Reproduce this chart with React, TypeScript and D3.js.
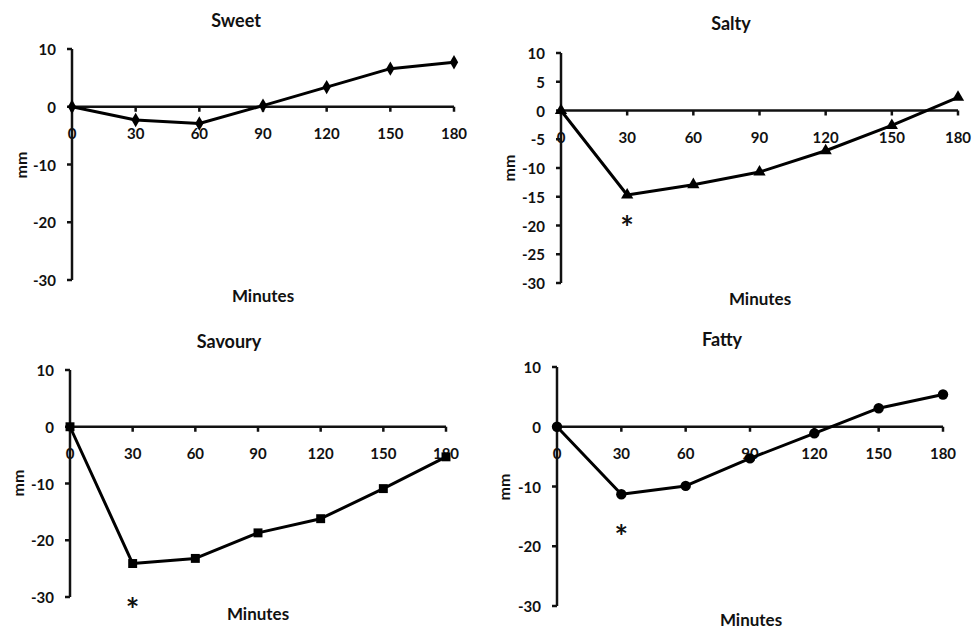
import React from 'react'
import * as d3 from 'd3'

const minutes = [0, 30, 60, 90, 120, 150, 180]
const sweet = [0, -2.3, -2.9, 0.2, 3.4, 6.6, 7.7]
const salty = [0, -14.7, -12.9, -10.7, -7.0, -2.6, 2.3]
const savoury = [0, -24.1, -23.2, -18.7, -16.2, -10.9, -5.3]
const fatty = [0, -11.3, -9.9, -5.3, -1.1, 3.1, 5.4]

const ticksBy10 = [10, 0, -10, -20, -30]
const ticksBy5 = [10, 5, 0, -5, -10, -15, -20, -25, -30]

// where the * sits (minute, mm)
const saltyStar = [30, -19.3]
const savouryStar = [30, -31.2]
const fattyStar = [30, -17.4]

const FONT = 'Lato, "Open Sans", sans-serif'

type Panel = {
  title: string
  values: number[]
  yTicks: number[]
  marker: d3.SymbolType
  markerSize: number
  star?: number[]
  box: { x0: number; x1: number; yTop: number; yBot: number }
  titlePos: [number, number]
  xTitlePos: [number, number]
  yTitlePos: [number, number]
}

const panels: Panel[] = [
  {
    title: 'Sweet', values: sweet, yTicks: ticksBy10, marker: d3.symbolDiamond, markerSize: 60,
    box: { x0: 72, x1: 454, yTop: 49, yBot: 280 },
    titlePos: [236, 20], xTitlePos: [263, 295], yTitlePos: [20, 165],
  },
  {
    title: 'Salty', values: salty, yTicks: ticksBy5, marker: d3.symbolTriangle, markerSize: 65, star: saltyStar,
    box: { x0: 561, x1: 958, yTop: 53, yBot: 283 },
    titlePos: [731, 23], xTitlePos: [760, 298], yTitlePos: [508, 168],
  },
  {
    title: 'Savoury', values: savoury, yTicks: ticksBy10, marker: d3.symbolSquare, markerSize: 80, star: savouryStar,
    box: { x0: 70, x1: 446, yTop: 370, yBot: 597 },
    titlePos: [229, 341], xTitlePos: [258, 613], yTitlePos: [17, 483],
  },
  {
    title: 'Fatty', values: fatty, yTicks: ticksBy10, marker: d3.symbolCircle, markerSize: 85, star: fattyStar,
    box: { x0: 557, x1: 943, yTop: 367, yBot: 606 },
    titlePos: [722, 339], xTitlePos: [751, 619], yTitlePos: [503, 487],
  },
]

function Chart({ p }: { p: Panel }) {
  const { box } = p
  const x = d3.scaleLinear().domain([0, 180]).range([box.x0, box.x1])
  const y = d3.scaleLinear().domain([10, -30]).range([box.yTop, box.yBot])
  const pts = minutes.map((m, i) => [m, p.values[i]] as [number, number])
  const line = d3.line<[number, number]>().x((d) => x(d[0])).y((d) => y(d[1]))
  const sym = d3.symbol().type(p.marker).size(p.markerSize)()
  const y0 = y(0)

  return (
    <g fontFamily={FONT} fontWeight="bold" fill="#111">
      <text x={p.titlePos[0]} y={p.titlePos[1]} textAnchor="middle" dominantBaseline="central" fontSize={18}>
        {p.title}
      </text>
      <text x={p.xTitlePos[0]} y={p.xTitlePos[1]} textAnchor="middle" dominantBaseline="central" fontSize={17}>
        Minutes
      </text>
      <text
        transform={`translate(${p.yTitlePos[0]},${p.yTitlePos[1]}) rotate(-90)`}
        textAnchor="middle"
        dominantBaseline="central"
        fontSize={16}
      >
        mm
      </text>

      {/* y axis */}
      <line x1={box.x0} x2={box.x0} y1={box.yTop} y2={box.yBot} stroke="#111" strokeWidth={2.5} />
      {p.yTicks.map((t) => (
        <g key={t}>
          <line x1={box.x0 - 5} x2={box.x0} y1={y(t)} y2={y(t)} stroke="#111" strokeWidth={2.5} />
          <text x={box.x0 - 16} y={y(t)} textAnchor="end" dominantBaseline="central" fontSize={15}>
            {t}
          </text>
        </g>
      ))}

      {/* x axis along zero */}
      <line x1={box.x0} x2={box.x1} y1={y0} y2={y0} stroke="#111" strokeWidth={2.5} />
      {minutes.map((m) => (
        <g key={m}>
          <line x1={x(m)} x2={x(m)} y1={y0} y2={y0 + 5} stroke="#111" strokeWidth={2.5} />
          <text x={x(m)} y={y0 + 26} textAnchor="middle" dominantBaseline="central" fontSize={15}>
            {m}
          </text>
        </g>
      ))}

      <path d={line(pts) ?? ''} fill="none" stroke="#000" strokeWidth={3} strokeLinejoin="round" />
      {pts.map((d) => (
        <path key={d[0]} d={sym ?? ''} transform={`translate(${x(d[0])},${y(d[1])})`} fill="#000" />
      ))}

      {p.star && (
        <text x={x(p.star[0])} y={y(p.star[1])} textAnchor="middle" dominantBaseline="central" fontSize={32} dy={6}>
          *
        </text>
      )}
    </g>
  )
}

export default function App() {
  return (
    <svg
      width={972}
      height={630}
      style={{ position: 'absolute', left: 0, top: 0, background: '#fff' }}
    >
      <rect width={972} height={630} fill="#fff" />
      {panels.map((p) => (
        <Chart key={p.title} p={p} />
      ))}
    </svg>
  )
}
